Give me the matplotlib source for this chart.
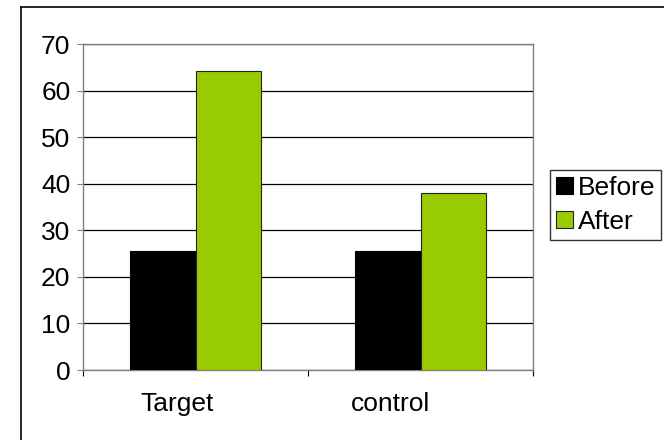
import matplotlib

matplotlib.use("Agg")
import matplotlib.pyplot as plt  # noqa: E402
import numpy as np  # noqa: E402
from matplotlib.lines import Line2D  # noqa: E402
from matplotlib.transforms import ScaledTranslation  # noqa: E402

categories = ["Target", "control"]
before = [25.5, 25.5]
after = [64.3, 38.0]
series_names = ["Before", "After"]
y_ticks = [0, 10, 20, 30, 40, 50, 60, 70]

BLACK = "#000000"
GREEN = "#99CC00"
GREY = "#808080"

plt.rcParams["font.family"] = ["Liberation Sans", "DejaVu Sans"]

W, H, DPI = 664, 440, 100
fig = plt.figure(figsize=(W / DPI, H / DPI), dpi=DPI)
ax = fig.add_axes([83 / W, (H - 370) / H, (533 - 83) / W, (370 - 44) / H])

x = np.arange(len(categories))
width = 0.29
ax.bar(x - width / 2, before, width, color=BLACK, edgecolor=BLACK,
       linewidth=0.8, label=series_names[0], zorder=3)
ax.bar(x + width / 2, after, width, color=GREEN, edgecolor="#222222",
       linewidth=0.8, label=series_names[1], zorder=3)

ax.set_xlim(-0.5, len(categories) - 0.5)
ax.set_ylim(0, 70)
ax.set_yticks(y_ticks)
ax.yaxis.grid(True, color=BLACK, linewidth=0.9, zorder=1)
ax.set_axisbelow(True)

for side in ("left", "right", "top", "bottom"):
    ax.spines[side].set_color(GREY)
    ax.spines[side].set_linewidth(1.0)

ax.tick_params(axis="y", direction="out", length=4, width=0.8, color=GREY,
               labelsize=19, pad=5)

# category labels sit between boundary tick marks
ax.set_xticks(x)
ax.set_xticklabels(categories)
ax.set_xticks(np.arange(-0.5, len(categories)), minor=True)
ax.tick_params(axis="x", which="major", length=0, labelsize=19, pad=16)
ax.tick_params(axis="x", which="minor", direction="out", length=4,
               width=0.8, color=BLACK)
for lbl, dx in zip(ax.get_xticklabels(), [-18, -30]):
    lbl.set_transform(lbl.get_transform() + ScaledTranslation(dx / DPI, 0, fig.dpi_scale_trans))

leg = ax.legend(loc="upper left", bbox_to_anchor=(550 / W, (H - 170) / H),
                bbox_transform=fig.transFigure, fontsize=19, frameon=True,
                fancybox=False, handlelength=0.64, handleheight=0.64,
                handletextpad=0.2, borderpad=0.22, labelspacing=0.38,
                borderaxespad=0)
leg.get_frame().set_edgecolor(BLACK)
leg.get_frame().set_linewidth(1.0)

# outer chart-area frame (left and top edges)
fx, fy = 21 / W, 1 - 7 / H
fig.add_artist(Line2D([fx, fx], [0, fy], transform=fig.transFigure, color=BLACK, linewidth=1.2))
fig.add_artist(Line2D([fx, 1], [fy, fy], transform=fig.transFigure, color=BLACK, linewidth=1.2))

fig.savefig("out.png", dpi=DPI)
